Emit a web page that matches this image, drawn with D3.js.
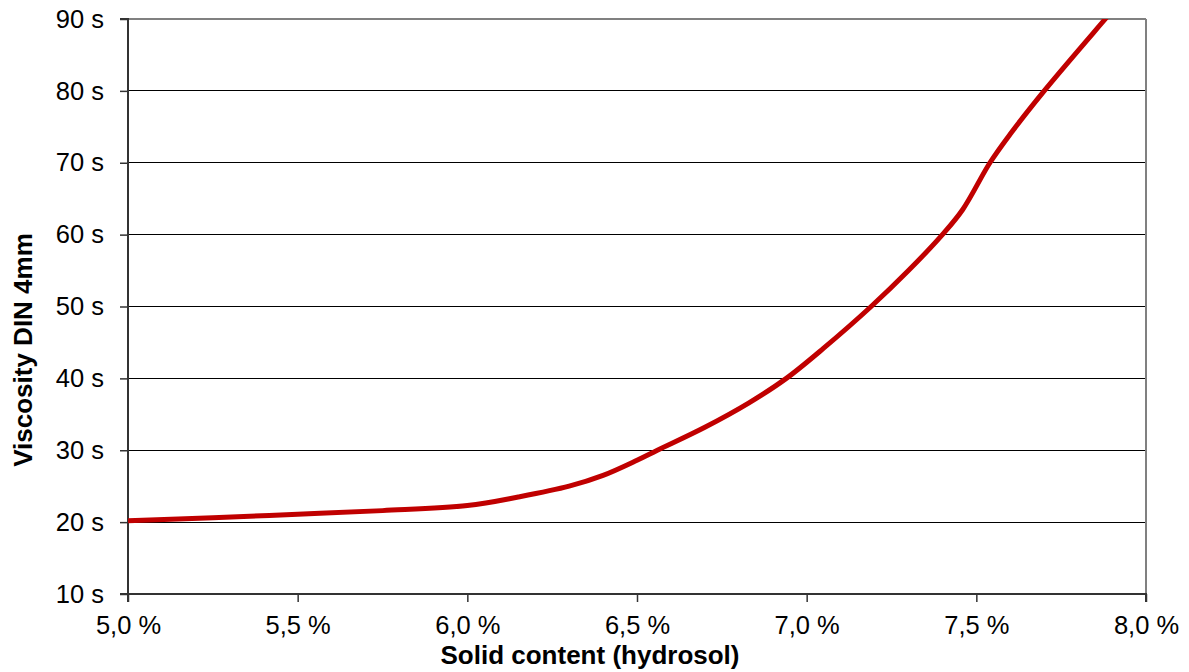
<!DOCTYPE html>
<html>
<head>
<meta charset="utf-8">
<script src="https://cdn.jsdelivr.net/npm/d3@7"></script>
<style>
  html, body { margin: 0; padding: 0; background: #fff; }
  svg { display: block; }
  text { font-family: "Liberation Sans", Arial, sans-serif; fill: #000; }
</style>
</head>
<body>
<svg id="chart" width="1189" height="672"></svg>
<script>
// Data
const solidContent = [5.0, 5.25, 5.5, 5.75, 6.0, 6.15, 6.3, 6.4, 6.5, 6.56, 6.7, 6.83, 6.94, 7.05, 7.19, 7.3, 7.4, 7.46, 7.54, 7.6, 7.7, 7.88, 7.92];
const viscosity    = [20.2, 20.6, 21.1, 21.6, 22.3, 23.5, 25.0, 26.5, 28.6, 30.0, 33.2, 36.6, 40.0, 44.2, 50.0, 55.0, 60.0, 63.5, 70.0, 74.0, 80.0, 90.0, 92.2];
const xTicks = [5.0, 5.5, 6.0, 6.5, 7.0, 7.5, 8.0];
const yTicks = [10, 20, 30, 40, 50, 60, 70, 80, 90];
const xTitle = "Solid content (hydrosol)";
const yTitle = "Viscosity DIN 4mm";

const svg = d3.select("#chart");
const pL = 128, pR = 1146, pT = 19, pB = 594;

const x = d3.scaleLinear().domain([5.0, 8.0]).range([pL, pR]);
const y = d3.scaleLinear().domain([10, 90]).range([pB, pT]);

const fmtX = d => d.toFixed(1).replace(".", ",") + " %";
const fmtY = d => d + " s";

// gridlines
svg.append("g").selectAll("line").data(yTicks.filter(d => d > 10 && d < 90)).join("line")
  .attr("x1", pL).attr("x2", pR)
  .attr("y1", d => y(d)).attr("y2", d => y(d))
  .attr("stroke", "#000").attr("stroke-width", 1).attr("shape-rendering", "crispEdges");

// plot border (top and right grey)
svg.append("line").attr("x1", pL).attr("x2", pR).attr("y1", pT).attr("y2", pT)
  .attr("stroke", "#808080").attr("stroke-width", 2);
svg.append("line").attr("x1", pR).attr("x2", pR).attr("y1", pT).attr("y2", pB)
  .attr("stroke", "#808080").attr("stroke-width", 2);

// clip
svg.append("clipPath").attr("id", "clip").append("rect")
  .attr("x", pL).attr("y", pT).attr("width", pR - pL).attr("height", pB - pT);

// axes
const yAxis = d3.axisLeft(y).tickValues(yTicks).tickFormat(fmtY).tickSize(8).tickPadding(16);
const xAxis = d3.axisBottom(x).tickValues(xTicks).tickFormat(fmtX).tickSize(8).tickPadding(14);

const gy = svg.append("g").attr("transform", `translate(${pL},0)`).call(yAxis);
const gx = svg.append("g").attr("transform", `translate(0,${pB})`).call(xAxis);

[gy, gx].forEach(g => {
  g.select(".domain").attr("stroke", "#333").attr("stroke-width", 2);
  g.selectAll(".tick line").attr("stroke", "#333").attr("stroke-width", 1.5);
  g.selectAll(".tick text").attr("font-family", "Liberation Sans, Arial, sans-serif")
    .attr("font-size", 25.5).attr("fill", "#000");
});
gy.select(".domain").attr("d", `M-8,${pT}H0V${pB}H-8`);
gx.select(".domain").attr("d", `M${pL},8V0H${pR}V8`);
gx.selectAll(".tick text").attr("dy", "0.71em");

// line
const line = d3.line()
  .x((d, i) => x(solidContent[i]))
  .y((d, i) => y(viscosity[i]))
  .curve(d3.curveCatmullRom.alpha(0.5));

svg.append("path")
  .datum(viscosity)
  .attr("clip-path", "url(#clip)")
  .attr("d", line)
  .attr("fill", "none")
  .attr("stroke", "#c00000")
  .attr("stroke-width", 5)
  .attr("stroke-linejoin", "round");

// titles
svg.append("text")
  .attr("x", 590).attr("y", 664)
  .attr("text-anchor", "middle")
  .attr("font-size", 26).attr("font-weight", "bold")
  .text(xTitle);

svg.append("text")
  .attr("transform", `translate(32,350) rotate(-90)`)
  .attr("text-anchor", "middle")
  .attr("font-size", 26).attr("font-weight", "bold")
  .text(yTitle);
</script>
</body>
</html>
